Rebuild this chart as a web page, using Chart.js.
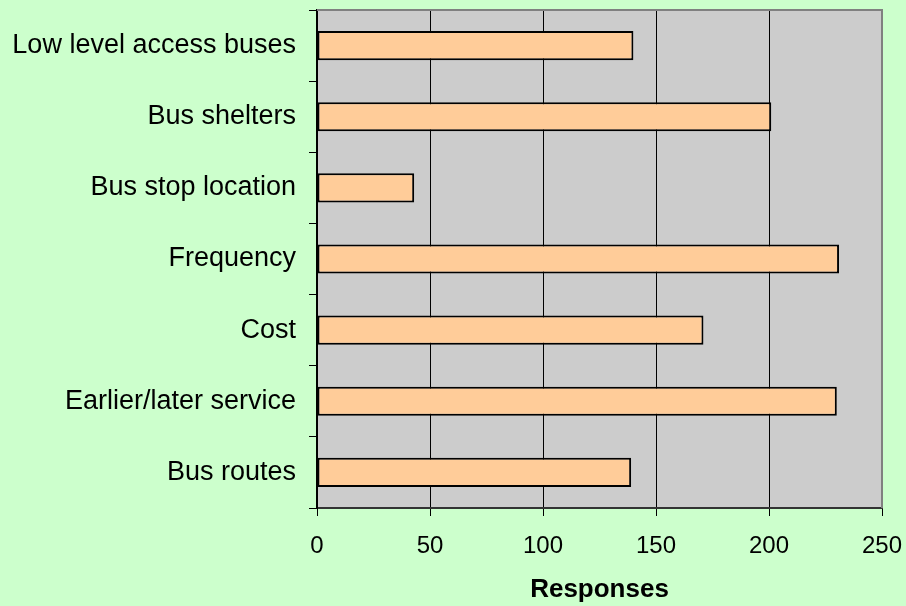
<!DOCTYPE html>
<html>
<head>
<meta charset="utf-8">
<script src="https://cdn.jsdelivr.net/npm/chart.js@4/dist/chart.umd.min.js"></script>
<style>
    html, body { margin: 0; padding: 0; background: #ccffcc; }
    #wrap { width: 906px; height: 606px; }
</style>
</head>
<body>
<div id="wrap"><canvas id="chartRespuestas" width="906" height="606"></canvas></div>
<script>
// Datos del gráfico (de arriba hacia abajo)
const categorias = [
    'Low level access buses',
    'Bus shelters',
    'Bus stop location',
    'Frequency',
    'Cost',
    'Earlier/later service',
    'Bus routes'
];
const respuestas = [140, 201, 43, 231, 171, 230, 139];
const ticksX = [0, 50, 100, 150, 200, 250];

// Quitar el relleno automático de las escalas
function sinRelleno(scale) {
    scale.paddingTop = 0;
    scale.paddingBottom = 0;
    scale.paddingLeft = 0;
    scale.paddingRight = 0;
}

// Fondo gris del área de trazado y borde superior/derecho
const fondoArea = {
    id: 'fondoArea',
    beforeDraw(chart) {
        const { ctx, chartArea: a } = chart;
        ctx.save();
        ctx.fillStyle = '#cccccc';
        ctx.fillRect(a.left, a.top, a.right - a.left, a.bottom - a.top);
        ctx.restore();
    },
    afterDraw(chart) {
        const { ctx, chartArea: a } = chart;
        ctx.save();
        ctx.strokeStyle = '#808080';
        ctx.lineWidth = 2;
        ctx.beginPath();
        ctx.moveTo(a.left, a.top);
        ctx.lineTo(a.right, a.top);
        ctx.lineTo(a.right, a.bottom);
        ctx.stroke();
        ctx.restore();
    }
};

const ctx = document.getElementById('chartRespuestas');
new Chart(ctx, {
    type: 'bar',
    data: {
        labels: categorias,
        datasets: [{
            data: respuestas,
            backgroundColor: '#ffcc99',
            borderColor: '#000000',
            borderWidth: 2,
            borderSkipped: false,
            barPercentage: 0.41,
            categoryPercentage: 1
        }]
    },
    options: {
        indexAxis: 'y',
        responsive: false,
        animation: false,
        layout: { padding: { top: 10, right: 24, left: 0, bottom: 0 } },
        plugins: {
            legend: { display: false },
            tooltip: { enabled: false }
        },
        scales: {
            x: {
                min: 0,
                max: 250,
                afterBuildTicks(scale) {
                    scale.ticks = ticksX.map(v => ({ value: v }));
                },
                afterFit(scale) {
                    scale.height = 98;
                    sinRelleno(scale);
                },
                grid: {
                    color: '#000000',
                    lineWidth: 1,
                    tickLength: 8,
                    tickColor: '#000000'
                },
                border: { color: '#333333', width: 2 },
                ticks: {
                    color: '#000000',
                    padding: 16,
                    font: { family: 'Liberation Sans', size: 24 }
                },
                title: {
                    display: true,
                    text: 'Responses',
                    color: '#000000',
                    padding: { top: 0, bottom: 1 },
                    font: { family: 'Liberation Sans', size: 26, weight: 'bold' }
                }
            },
            y: {
                afterFit(scale) {
                    scale.width = 317;
                    sinRelleno(scale);
                },
                grid: {
                    offset: true,
                    drawOnChartArea: false,
                    tickLength: 8,
                    color: '#000000'
                },
                border: { color: '#000000', width: 2 },
                ticks: {
                    color: '#000000',
                    padding: 13,
                    font: { family: 'Liberation Sans', size: 27 }
                }
            }
        }
    },
    plugins: [fondoArea]
});
</script>
</body>
</html>
